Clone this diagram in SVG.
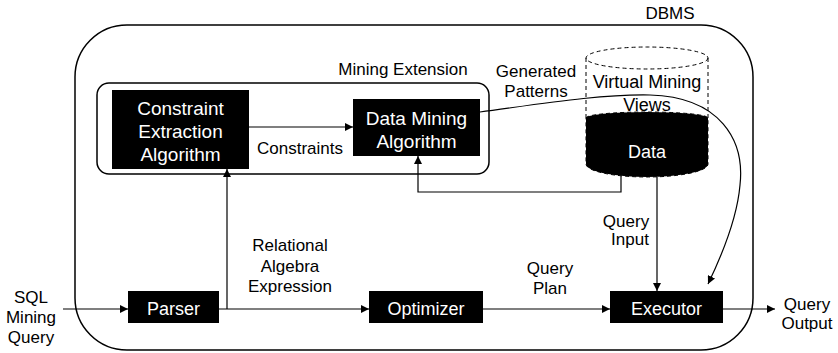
<svg xmlns="http://www.w3.org/2000/svg" width="838" height="353" viewBox="0 0 838 353">
<style>
text{font-family:"Liberation Sans",Arial,sans-serif;fill:#000;text-anchor:middle}
.lbl{font-size:17px}
.box{fill:#000}
.bt{fill:#fff;font-size:19px}
.bt2{fill:#fff;font-size:18px}
.ln{fill:none;stroke:#000;stroke-width:1.2}
.frame{fill:none;stroke:#000;stroke-width:1.5}
</style>
<defs>
<marker id="ah" viewBox="0 0 10 10" refX="10" refY="5" markerWidth="8" markerHeight="8" markerUnits="userSpaceOnUse" orient="auto">
<path d="M0,0 L10,5 L0,10 Z" fill="#000"/>
</marker>
</defs>
<g id="dbms">
<rect class="frame" x="75" y="25" width="678" height="325" rx="52" ry="52"/>
<text class="lbl" x="670" y="19">DBMS</text>
</g>
<g id="mining-extension">
<rect class="frame" x="97" y="83" width="392" height="91" rx="12" ry="12"/>
<text class="lbl" x="403" y="75">Mining Extension</text>
</g>
<g id="constraint-extraction">
<rect class="box" x="112" y="90" width="137" height="79"/>
<text class="bt" x="180.5" y="115">Constraint</text>
<text class="bt" x="180.5" y="138">Extraction</text>
<text class="bt" x="180.5" y="161">Algorithm</text>
</g>
<g id="data-mining">
<rect class="box" x="353" y="99" width="127" height="57"/>
<text class="bt" x="416.5" y="125">Data Mining</text>
<text class="bt" x="416.5" y="148">Algorithm</text>
</g>
<g id="data-store">
<path d="M586,118 A61,6 0 0 1 708,118 L708,164 A61,13 0 0 1 586,164 Z" fill="#000" stroke="#000" stroke-dasharray="4,3"/>
<ellipse cx="647" cy="58" rx="61" ry="11" fill="none" stroke="#000" stroke-width="1" stroke-dasharray="4,3"/>
<line x1="586" y1="58" x2="586" y2="118" stroke="#000" stroke-width="1" stroke-dasharray="4,3"/>
<line x1="708" y1="58" x2="708" y2="118" stroke="#000" stroke-width="1" stroke-dasharray="4,3"/>
<text class="bt2" x="647" y="88" style="fill:#000">Virtual Mining</text>
<text class="bt2" x="647" y="111" style="fill:#000">Views</text>
<text class="bt2" x="647" y="158">Data</text>
</g>
<g id="parser">
<rect class="box" x="128" y="291" width="91" height="32"/>
<text class="bt2" x="173.5" y="315">Parser</text>
</g>
<g id="optimizer">
<rect class="box" x="369" y="291" width="114" height="32"/>
<text class="bt2" x="426" y="315">Optimizer</text>
</g>
<g id="executor">
<rect class="box" x="610" y="291" width="113" height="32"/>
<text class="bt2" x="666.5" y="315">Executor</text>
</g>
<g id="connectors">
<line class="ln" x1="63" y1="309" x2="128" y2="309" marker-end="url(#ah)"/>
<line class="ln" x1="219" y1="309" x2="369" y2="309" marker-end="url(#ah)"/>
<line class="ln" x1="227" y1="309" x2="227" y2="169" marker-end="url(#ah)"/>
<line class="ln" x1="483" y1="309" x2="610" y2="309" marker-end="url(#ah)"/>
<line class="ln" x1="723" y1="309" x2="775" y2="309" marker-end="url(#ah)"/>
<line class="ln" x1="249" y1="127" x2="353" y2="127" marker-end="url(#ah)"/>
<polyline class="ln" points="621,176 621,192 418,192 418,156" marker-end="url(#ah)"/>
<line class="ln" x1="657" y1="177" x2="657" y2="291" marker-end="url(#ah)"/>
<path class="ln" d="M480,112 C540,104 600,94 650,95 C720,97 745,140 740,185 C737,220 722,255 708,284" marker-end="url(#ah)"/>
</g>
<g id="labels">
<text class="lbl" x="300" y="154">Constraints</text>
<text class="lbl" x="536" y="77">Generated</text>
<text class="lbl" x="536" y="97">Patterns</text>
<text class="lbl" x="31" y="303">SQL</text>
<text class="lbl" x="31" y="323">Mining</text>
<text class="lbl" x="31" y="343">Query</text>
<text class="lbl" x="290" y="251">Relational</text>
<text class="lbl" x="290" y="272">Algebra</text>
<text class="lbl" x="290" y="292">Expression</text>
<text class="lbl" x="550" y="274">Query</text>
<text class="lbl" x="550" y="294">Plan</text>
<text class="lbl" x="626" y="227">Query</text>
<text class="lbl" x="630" y="245">Input</text>
<text class="lbl" x="807" y="310">Query</text>
<text class="lbl" x="807" y="329">Output</text>
</g>
</svg>
